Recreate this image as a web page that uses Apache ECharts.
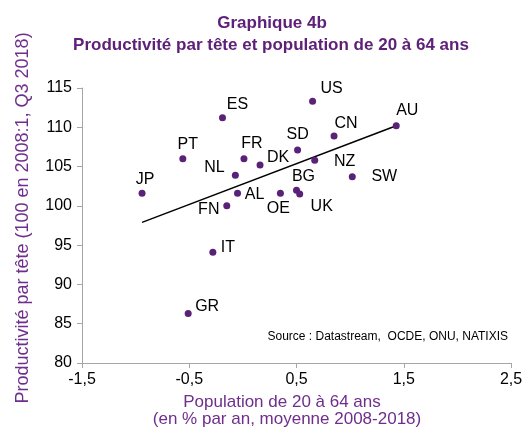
<!DOCTYPE html>
<html>
<head>
<meta charset="utf-8">
<script src="https://cdn.jsdelivr.net/npm/echarts@6/dist/echarts.min.js"></script>
<style>
  html, body { margin: 0; padding: 0; background: #fff; }
  #chart { width: 531px; height: 430px; }
</style>
</head>
<body>
<div id="chart"></div>
<script>
// données
var countries = ['US', 'ES', 'AU', 'CN', 'SD', 'PT', 'FR', 'DK', 'NZ', 'NL', 'SW', 'JP', 'AL', 'OE', 'BG', 'UK', 'FN', 'IT', 'GR']
var popGrowth = [0.65, -0.19, 1.43, 0.85, 0.51, -0.56, 0.01, 0.16, 0.67, -0.07, 1.02, -0.94, -0.05, 0.35, 0.50, 0.53, -0.15, -0.28, -0.51]
var productivity = [113.3, 111.2, 110.2, 108.9, 107.1, 106.0, 106.0, 105.2, 105.8, 103.9, 103.7, 101.6, 101.6, 101.6, 102.0, 101.5, 100.0, 94.1, 86.3]
// droite de tendance (extrémités lues)
var trendX = [-0.94, 1.43]
var trendY = [97.9, 110.2]
var xTicks = [-1.5, -0.5, 0.5, 1.5, 2.5]
var yTicks = [80, 85, 90, 95, 100, 105, 110, 115]

// décalage des étiquettes (mise en page)
var labelOffsets = {
  US: [19, -13], ES: [15, -13], AU: [11, -15], CN: [12, -12], SD: [0, -15],
  PT: [5, -14], FR: [8, -15], DK: [18, -7], NZ: [30, 1], NL: [-21, -8],
  SW: [32, 0], JP: [3, -14], AL: [17, 1], OE: [-2, 15], BG: [7, -14],
  UK: [22, 13], FN: [-18, 4], IT: [15, -5], GR: [19, -7]
}

var font = "'Liberation Sans', Arial, sans-serif"
var purple = '#5e2078'
var axisPurple = '#6f2d8c'
var axisGray = '#a6a6a6'

var points = countries.map(function (name, i) {
  return {
    name: name,
    value: [popGrowth[i], productivity[i]],
    label: { offset: labelOffsets[name] }
  }
})
var trend = trendX.map(function (x, i) { return [x, trendY[i]] })

var option = {
  animation: false,
  grid: { left: 82, right: 20, top: 88, bottom: 67 },
  xAxis: {
    type: 'value',
    min: xTicks[0],
    max: xTicks[xTicks.length - 1],
    interval: 1,
    splitLine: { show: false },
    axisLine: { onZero: false, lineStyle: { color: axisGray, width: 1 } },
    axisTick: { show: true, length: 5, lineStyle: { color: axisGray } },
    axisLabel: {
      color: '#000', fontSize: 16, fontFamily: font, margin: 9,
      formatter: function (v) { return String(v).replace('.', ',') }
    }
  },
  yAxis: {
    type: 'value',
    min: yTicks[0],
    max: yTicks[yTicks.length - 1],
    interval: 5,
    splitLine: { show: false },
    axisLine: { show: true, onZero: false, lineStyle: { color: axisGray, width: 1 } },
    axisTick: { show: true, length: 5, lineStyle: { color: axisGray } },
    axisLabel: { color: '#000', fontSize: 16, fontFamily: font, margin: 10 }
  },
  series: [
    {
      type: 'line',
      data: trend,
      showSymbol: false,
      lineStyle: { color: '#000', width: 1.5 },
      z: 1
    },
    {
      type: 'scatter',
      data: points,
      symbolSize: 7,
      itemStyle: { color: '#5a2178', opacity: 1 },
      label: {
        show: true,
        position: 'inside',
        formatter: '{b}',
        color: '#000',
        fontSize: 16,
        fontFamily: font
      },
      z: 3
    }
  ],
  graphic: [
    {
      type: 'text', x: 272, y: 23,
      style: {
        text: 'Graphique 4b', fill: purple, font: 'bold 17px ' + font,
        align: 'center', verticalAlign: 'middle'
      }
    },
    {
      type: 'text', x: 271, y: 45,
      style: {
        text: 'Productivité par tête et population de 20 à 64 ans',
        fill: purple, font: 'bold 17px ' + font,
        align: 'center', verticalAlign: 'middle'
      }
    },
    {
      type: 'text', x: 282, y: 402,
      style: {
        text: 'Population de 20 à 64 ans',
        fill: axisPurple, font: '17px ' + font,
        align: 'center', verticalAlign: 'middle'
      }
    },
    {
      type: 'text', x: 287, y: 419,
      style: {
        text: '(en % par an, moyenne 2008-2018)',
        fill: axisPurple, font: '17px ' + font,
        align: 'center', verticalAlign: 'middle'
      }
    },
    {
      type: 'text', x: 23, y: 218, rotation: Math.PI / 2,
      style: {
        text: 'Productivité par tête (100 en 2008:1, Q3 2018)',
        fill: axisPurple, font: '18px ' + font,
        align: 'center', verticalAlign: 'middle'
      }
    },
    {
      type: 'text', x: 508, y: 337,
      style: {
        text: 'Source : Datastream,  OCDE, ONU, NATIXIS',
        fill: '#000', font: '12px ' + font,
        align: 'right', verticalAlign: 'middle'
      }
    }
  ]
}

var myChart = echarts.init(document.getElementById('chart'))
myChart.setOption(option)
</script>
</body>
</html>
